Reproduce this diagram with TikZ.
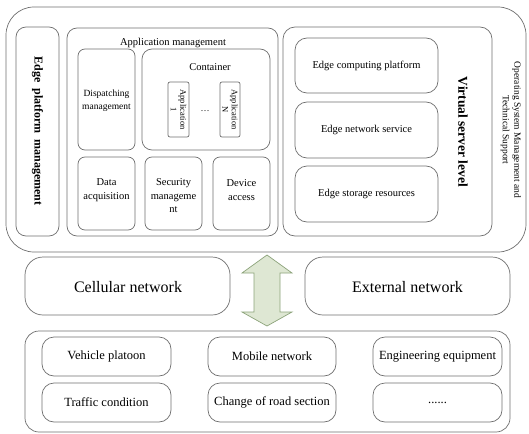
\documentclass[tikz,border=0pt]{standalone}
\usepackage{fontspec}
\setmainfont{Liberation Serif}
\definecolor{linegray}{RGB}{110,110,110}
\definecolor{arrowfill}{RGB}{222,231,211}
\definecolor{arrowdraw}{RGB}{140,163,122}
\begin{document}
\begin{tikzpicture}[x=1pt,y=-1pt,
  boxline/.style={draw=linegray,line width=0.7pt},
  txt/.style={font=\fontsize{10.5}{12.5}\selectfont,align=center,inner sep=0pt},
  bigtxt/.style={font=\fontsize{16}{19}\selectfont,inner sep=0pt},
  bottxt/.style={font=\fontsize{12.5}{15}\selectfont,inner sep=0pt},
]
\useasboundingbox (0,0) rectangle (529,433);
% outer upper frame
\draw[boxline,rounded corners=28pt] (6,7) rectangle (526,252);
% edge platform management
\draw[boxline,rounded corners=10pt] (16,27) rectangle (59,236);
\node[font=\bfseries\fontsize{12}{14}\selectfont,rotate=-90,inner sep=0pt] (epm) at (37.5,131) {Edge\ \ platform\ \ management};
% application management
\draw[boxline,rounded corners=10pt] (67,28) rectangle (278,236);
\node[txt] (amt) at (173,43) {Application management};
\draw[boxline,rounded corners=7pt] (78,49) rectangle (135,150);
\node[txt,font=\fontsize{9.5}{13}\selectfont] (disp) at (106.5,101) {Dispatching\\management};
\draw[boxline,rounded corners=10pt] (142,49) rectangle (270,150);
\node[txt] (cont) at (210,67) {Container};
\draw[boxline,rounded corners=2pt] (168,82) rectangle (189,137);
\node[txt,font=\fontsize{8.5}{9.5}\selectfont,rotate=-90] (a1) at (178.5,109.5) {Application\\1};
\node[txt,font=\fontsize{9}{10}\selectfont] (dots) at (205,111) {\dots};
\draw[boxline,rounded corners=2pt] (220,82) rectangle (240,137);
\node[txt,font=\fontsize{8.5}{9.5}\selectfont,rotate=-90] (an) at (230,109.5) {Application\\N};
\draw[boxline,rounded corners=7pt] (78,157) rectangle (135,230);
\node[txt,font=\fontsize{10.5}{13.5}\selectfont] (data) at (106.5,190) {Data\\acquisition};
\draw[boxline,rounded corners=7pt] (145,157) rectangle (202,230);
\node[txt,font=\fontsize{10.5}{13.5}\selectfont] (sec) at (173.5,196) {Security\\manageme\\nt};
\draw[boxline,rounded corners=7pt] (213,157) rectangle (270,230);
\node[txt,font=\fontsize{10.5}{13.5}\selectfont] (dev) at (241.5,190) {Device\\access};
% virtual server level
\draw[boxline,rounded corners=12pt] (283,27) rectangle (492,236);
\draw[boxline,rounded corners=12pt] (295,38) rectangle (438,93);
\node[txt] (ecp) at (366.5,65.5) {Edge computing platform};
\draw[boxline,rounded corners=12pt] (295,102) rectangle (438,158);
\node[txt] (ens) at (366.5,130) {Edge network service};
\draw[boxline,rounded corners=12pt] (295,166) rectangle (438,222);
\node[txt] (esr) at (366.5,194) {Edge storage resources};
\node[font=\bfseries\fontsize{13.5}{16}\selectfont,rotate=-90,inner sep=0pt] (vsl) at (463,132) {Virtual server level};
\node[txt,font=\fontsize{9.5}{11.5}\selectfont,rotate=-90] (os) at (511,130) {Operating System Management and\\Technical Support};
% networks
\draw[boxline,rounded corners=18pt] (25,257) rectangle (230,315);
\node[bigtxt] (cell) at (128,287) {Cellular network};
\draw[boxline,rounded corners=18pt] (305,257) rectangle (510,315);
\node[bigtxt] (ext) at (407.5,287) {External network};
% double arrow
\draw[draw=arrowdraw,fill=arrowfill,line width=0.7pt]
  (267,255) -- (292,273) -- (280,273) -- (280,312) -- (292,312) -- (267,326)
  -- (242,312) -- (254,312) -- (254,273) -- (242,273) -- cycle;
% bottom frame
\draw[boxline,rounded corners=14pt] (25,331) rectangle (510,432);
\draw[boxline,rounded corners=12pt] (42,337) rectangle (171,376);
\node[bottxt] (vp) at (106.5,356.5) {Vehicle platoon};
\draw[boxline,rounded corners=12pt] (208,337) rectangle (336,376);
\node[bottxt] (mn) at (272,356.5) {Mobile network};
\draw[boxline,rounded corners=12pt] (373,337) rectangle (502,376);
\node[bottxt] (ee) at (437.5,356.5) {Engineering equipment};
\draw[boxline,rounded corners=12pt] (42,383) rectangle (171,422);
\node[bottxt] (tc) at (106.5,402.5) {Traffic condition};
\draw[boxline,rounded corners=12pt] (208,383) rectangle (336,422);
\node[bottxt] (cr) at (272,402.5) {Change of road section};
\draw[boxline,rounded corners=12pt] (373,383) rectangle (502,422);
\node[bottxt] (etc) at (437.5,402.5) {......};
\end{tikzpicture}
\end{document}
